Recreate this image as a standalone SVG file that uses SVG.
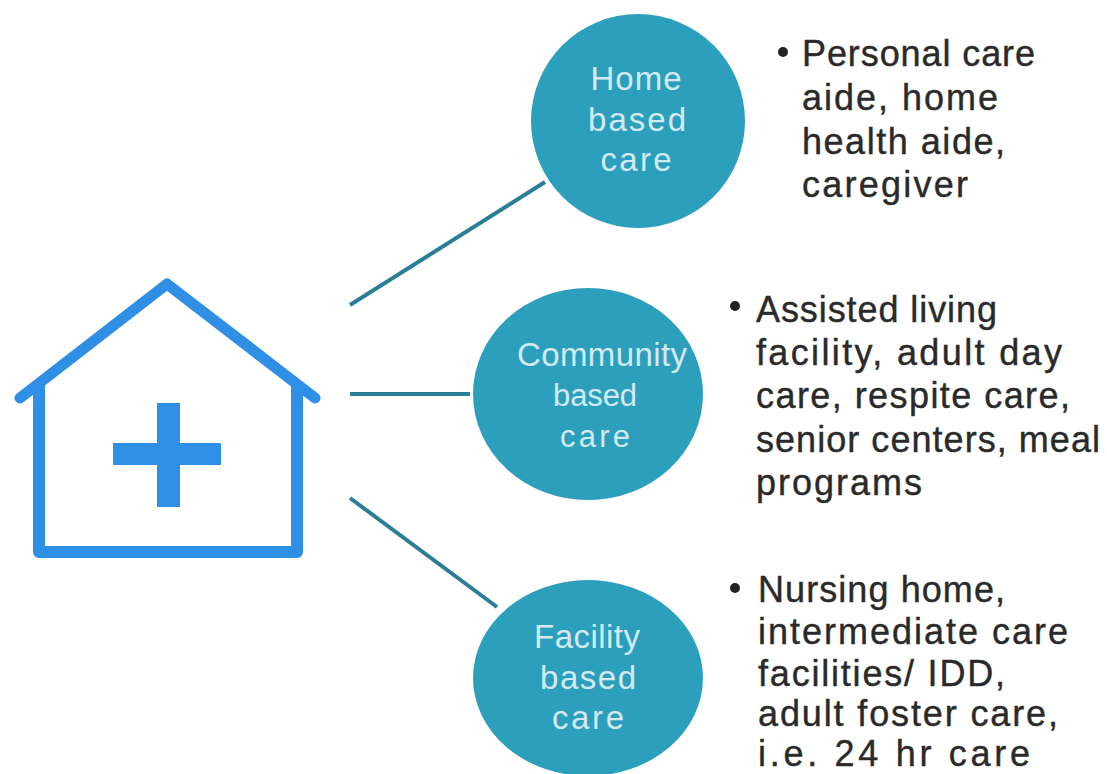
<svg xmlns="http://www.w3.org/2000/svg" width="1107" height="774" viewBox="0 0 1107 774">
<style>
.conn{stroke:#2a7f96;stroke-width:4;fill:none}
.circle{fill:#2c9fbd}
.lbl{font-family:"Liberation Sans",Lato,sans-serif;font-size:33px;fill:#d3eaf0;text-anchor:middle}
.txt{font-family:"Liberation Sans",Lato,sans-serif;font-size:36px;fill:#2a2a2a;stroke:#2a2a2a;stroke-width:.4px}
.ic{stroke:#2f8fe4;fill:none;stroke-linejoin:round}
</style>
<rect width="1107" height="774" fill="#ffffff"/>
<g id="connectors">
<line class="conn" x1="350" y1="305" x2="545" y2="182"/>
<line class="conn" x1="350" y1="394" x2="470" y2="394"/>
<line class="conn" x1="350" y1="498" x2="497" y2="607"/>
</g>
<g id="house">
<path class="ic" stroke-width="11" stroke-linecap="round" d="M20 398L167 284L315 398"/>
<path class="ic" stroke-width="12" d="M39 385V552H297V385"/>
<path fill="#2f8fe4" d="M157 403H180V443H221V465H180V507H157V465H113V443H157Z"/>
</g>
<g id="home-based">
<circle class="circle" cx="638" cy="121" r="107"/>
<text class="lbl" x="636" y="90" textLength="91">Home</text>
<text class="lbl" x="637" y="131" textLength="98">based</text>
<text class="lbl" x="636" y="171" textLength="71">care</text>
</g>
<g id="community-based">
<ellipse class="circle" cx="588" cy="394" rx="115" ry="106"/>
<text class="lbl" x="602" y="366" font-size="31" textLength="170">Community</text>
<text class="lbl" x="595" y="406" style="font-size:31px" textLength="84">based</text>
<text class="lbl" x="595" y="447" style="font-size:31px" textLength="70">care</text>
</g>
<g id="facility-based">
<ellipse class="circle" cx="588" cy="678" rx="115" ry="98"/>
<text class="lbl" x="587" y="648" textLength="106">Facility</text>
<text class="lbl" x="588" y="689" textLength="96">based</text>
<text class="lbl" x="588" y="729" textLength="72">care</text>
</g>
<g id="home-text">
<circle cx="783" cy="52" r="5" fill="#222"/>
<text class="txt" x="802" y="66" textLength="233">Personal care</text>
<text class="txt" x="802" y="110" textLength="196">aide, home</text>
<text class="txt" x="802" y="154" textLength="203">health aide,</text>
<text class="txt" x="802" y="197" textLength="166">caregiver</text>
</g>
<g id="community-text">
<circle cx="735" cy="306" r="5" fill="#222"/>
<text class="txt" x="756" y="322" textLength="241">Assisted living</text>
<text class="txt" x="756" y="365" textLength="306">facility, adult day</text>
<text class="txt" x="756" y="408" textLength="314">care, respite care,</text>
<text class="txt" x="756" y="452" textLength="344">senior centers, meal</text>
<text class="txt" x="756" y="495" textLength="166">programs</text>
</g>
<g id="facility-text">
<circle cx="735" cy="588" r="5" fill="#222"/>
<text class="txt" x="758" y="602" textLength="247">Nursing home,</text>
<text class="txt" x="758" y="644" textLength="310">intermediate care</text>
<text class="txt" x="758" y="686" textLength="247">facilities/ IDD,</text>
<text class="txt" x="758" y="726" textLength="300">adult foster care,</text>
<text class="txt" x="758" y="766" textLength="272">i.e. 24 hr care</text>
</g>
</svg>
